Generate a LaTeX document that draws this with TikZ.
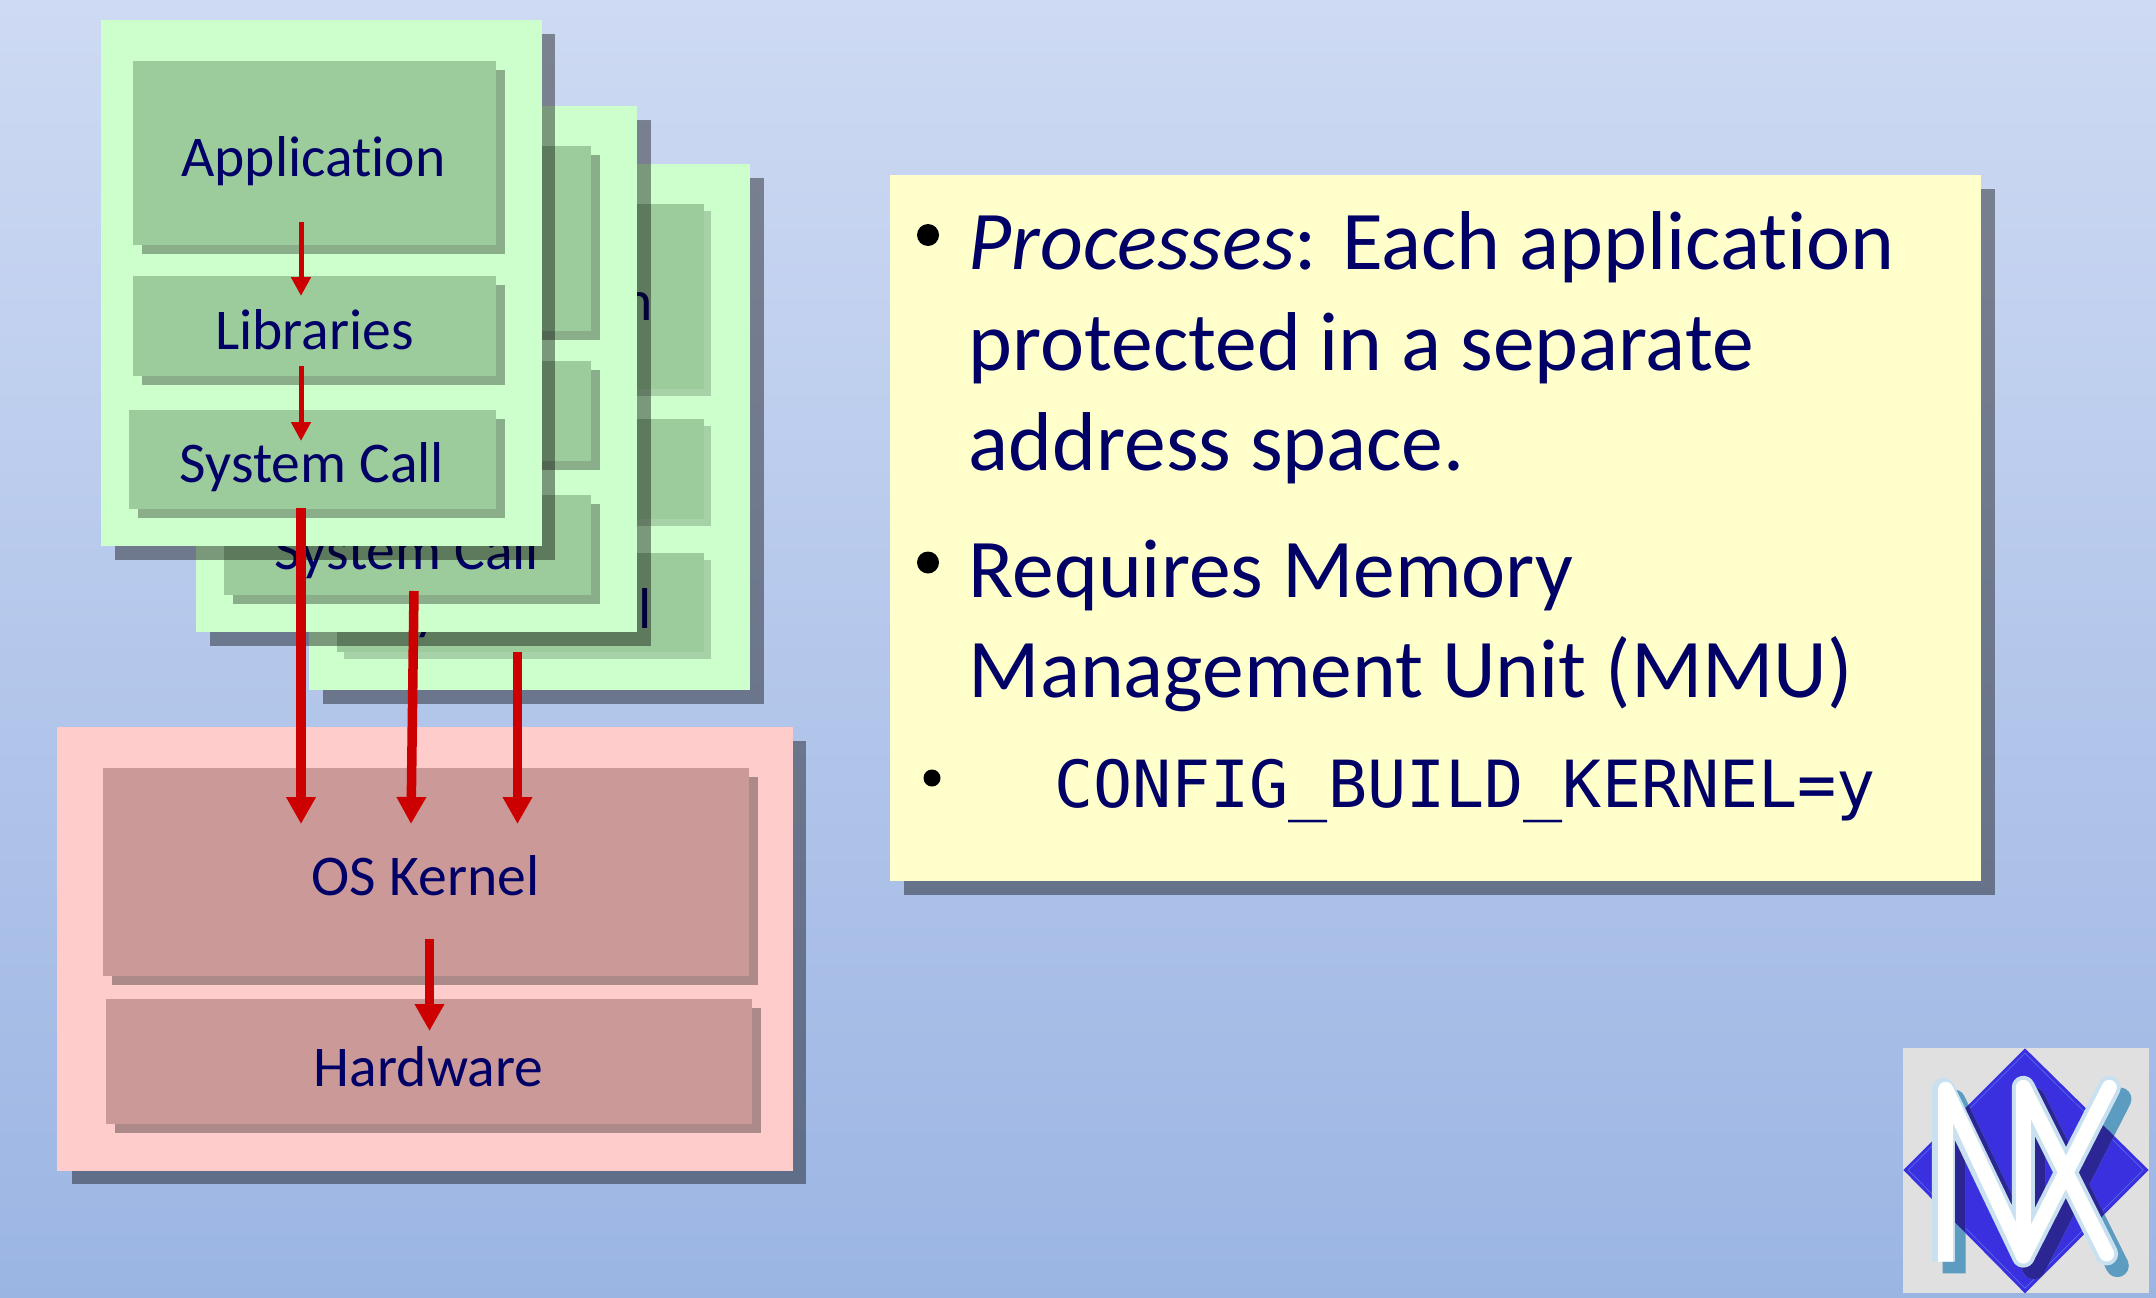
\documentclass[tikz,border=0pt]{standalone}
\usepackage{fontspec}
\setmainfont[Ligatures=NoCommon]{Carlito}
\setmonofont{DejaVu Sans Mono}
\usetikzlibrary{arrows.meta}
\definecolor{ink}{HTML}{000066}
\definecolor{cardg}{HTML}{CCFFCC}
\definecolor{boxg}{HTML}{9CCC9C}
\definecolor{cardr}{HTML}{FFCCCC}
\definecolor{boxr}{HTML}{CC9999}
\definecolor{note}{HTML}{FFFFCC}
\definecolor{red1}{HTML}{CC0000}
\definecolor{logoblue}{HTML}{3A30E0}
\definecolor{logodark}{HTML}{2C2694}
\definecolor{logoteal}{HTML}{5C9CC0}
\definecolor{logopale}{HTML}{C8E0F0}
\definecolor{logoline}{HTML}{5A78E8}
\definecolor{bgtop}{HTML}{CEDAF3}
\definecolor{bgbottom}{HTML}{9BB5E3}
\begin{document}
\begin{tikzpicture}[x=1pt,y=-1pt,
  plate/.style={fill=#1,draw=none},
  cardshadow/.style={fill=black,fill opacity=.4,draw=none},
  boxshadow/.style={fill=black,fill opacity=.32,draw=none},
  boxshadowlite/.style={fill=black,fill opacity=.18,draw=none},
  lab/.style={text=ink,font=\fontsize{57.6}{58}\selectfont,inner sep=0pt,anchor=base},
  thin arrow/.style={draw=red1,line width=5pt,-{Triangle[length=19pt,width=19pt]}},
  thick arrow/.style={draw=red1,line width=9.5pt,-{Triangle[length=27pt,width=28pt]}},
  body/.style={text=ink,font=\fontsize{83.5}{101}\selectfont,inner sep=0pt,anchor=base west},
  bulletdot/.style={fill=black,draw=none}]
\useasboundingbox (0,0) rectangle (2156,1298);
\shade[top color=bgtop,bottom color=bgbottom] (0,0) rectangle (2156,1298);

% back card
\fill[cardshadow] (323,178) rectangle (764,704);
\fill[plate=cardg] (309,164) rectangle (750,690);
\fill[boxshadowlite] (348,211) rectangle (711,396);
\fill[plate=boxg] (341,204) rectangle (704,389);
\fill[boxshadowlite] (348,426) rectangle (711,526);
\fill[plate=boxg] (341,419) rectangle (704,519);
\fill[boxshadowlite] (344,560) rectangle (711,659);
\fill[plate=boxg] (337,553) rectangle (704,652);
\node[lab] (backapp) at (521,320) {Application};
\node[lab] (backsys) at (520,628) {System Call};

% middle card
\fill[cardshadow] (210,120) rectangle (651,646);
\fill[plate=cardg] (196,106) rectangle (637,632);
\fill[boxshadow] (237,155) rectangle (600,340);
\fill[plate=boxg] (228,146) rectangle (591,331);
\fill[boxshadow] (237,370) rectangle (600,470);
\fill[plate=boxg] (228,361) rectangle (591,461);
\fill[boxshadow] (233,504) rectangle (600,604);
\fill[plate=boxg] (224,495) rectangle (591,595);
\node[lab] (midsys) at (407,569.5) {System Call};

% front card
\fill[cardshadow] (115,34) rectangle (555,560);
\fill[plate=cardg] (101,20) rectangle (542,546);
\fill[boxshadow] (142,70) rectangle (505,254);
\fill[plate=boxg] (133,61) rectangle (496,245);
\fill[boxshadow] (142,285) rectangle (505,385);
\fill[plate=boxg] (133,276) rectangle (496,376);
\fill[boxshadow] (138,419) rectangle (505,518);
\fill[plate=boxg] (129,410) rectangle (496,509);
\node[lab] (app) at (313.5,176.5) {Application};
\node[lab] (lib) at (314.5,349.5) {Libraries};
\node[lab] (sys) at (312,482.5) {System Call};

% kernel card
\fill[cardshadow] (72,741) rectangle (806,1184);
\fill[plate=cardr] (57,727) rectangle (793,1171);
\fill[boxshadow] (112,777) rectangle (758,985);
\fill[plate=boxr] (103,768) rectangle (749,976);
\fill[boxshadow] (115,1008) rectangle (761,1133);
\fill[plate=boxr] (106,999) rectangle (752,1124);
\node[lab] (kern) at (425.5,895) {OS Kernel};
\node[lab] (hw) at (428.5,1086) {Hardware};

% arrows
\coordinate (a1s) at (301,222); \coordinate (a1e) at (301,296);
\coordinate (a2s) at (301,366); \coordinate (a2e) at (301,441);
\coordinate (b1s) at (301,508); \coordinate (b1e) at (301,824);
\coordinate (b2s) at (414,591); \coordinate (b2e) at (411,824);
\coordinate (b3s) at (517.5,652); \coordinate (b3e) at (517.5,824);
\coordinate (b4s) at (429.5,939); \coordinate (b4e) at (429.5,1031);
\draw[thin arrow] (a1s) -- (a1e);
\draw[thin arrow] (a2s) -- (a2e);
\draw[thick arrow] (b1s) -- (b1e);
\draw[thick arrow] (b2s) -- (b2e);
\draw[thick arrow] (b3s) -- (b3e);
\draw[thick arrow] (b4s) -- (b4e);

% note
\fill[cardshadow] (904,189) rectangle (1995,895);
\fill[plate=note] (890,175) rectangle (1981,881);
\fill[bulletdot] (928,235) circle (11);
\fill[bulletdot] (928,562.5) circle (11);
\fill[bulletdot] (932,778) circle (8.5);
\node[body] (t1) at (968.5,269) {\textit{Processes}: Each application};
\node[body] (t2) at (968.5,370) {protected in a separate};
\node[body] (t3) at (968.5,470) {address space.};
\node[body] (t4) at (968.5,597.5) {Requires Memory};
\node[body] (t5) at (968.5,697) {Management Unit (MMU)};
\node[body,font=\fontsize{65}{65}\selectfont\ttfamily] (t6) at (1054,807) {CONFIG\_BUILD\_KERNEL=y};

% logo
\begin{scope}[shift={(1880,1030)},x=.3333pt,y=-.3333pt]
\fill[gray!24] (70,55) rectangle (806,790);
\fill[logoblue] (435,55) -- (806,420) -- (435,790) -- (70,420) -- cycle;
\draw[logoline,line width=.5pt] (435,70) -- (790,420) -- (435,775) -- (85,420) -- cycle;
\begin{scope}[shift={(32,35)}]
\draw[logoteal,line width=23pt,line join=round] (190,695) -- (190,178) -- (430,678) -- (430,172) -- (680,672);
\draw[logoteal,line width=23pt,line cap=round] (430,678) -- (688,172);
\fill[logoteal] (680,672) circle (11.5pt);
\end{scope}
\begin{scope}
\clip (435,55) -- (806,420) -- (435,790) -- (70,420) -- cycle;
\begin{scope}[shift={(32,35)}]
\draw[logodark,line width=23pt,line join=round] (190,695) -- (190,178) -- (430,678) -- (430,172) -- (680,672);
\draw[logodark,line width=23pt,line cap=round] (430,678) -- (688,172);
\end{scope}
\end{scope}
\draw[logopale,line width=23pt,line join=round] (190,695) -- (190,178) -- (430,678) -- (430,172) -- (680,672);
\draw[logopale,line width=23pt,line cap=round] (430,678) -- (688,172);
\fill[logopale] (680,672) circle (11.5pt);
\draw[white,line width=15pt,line join=round] (197,695) -- (197,178) -- (430,678) -- (430,172) -- (680,672);
\draw[white,line width=15pt,line cap=round] (430,678) -- (688,172);
\fill[white] (680,672) circle (7.5pt);
\end{scope}
\end{tikzpicture}
\end{document}
